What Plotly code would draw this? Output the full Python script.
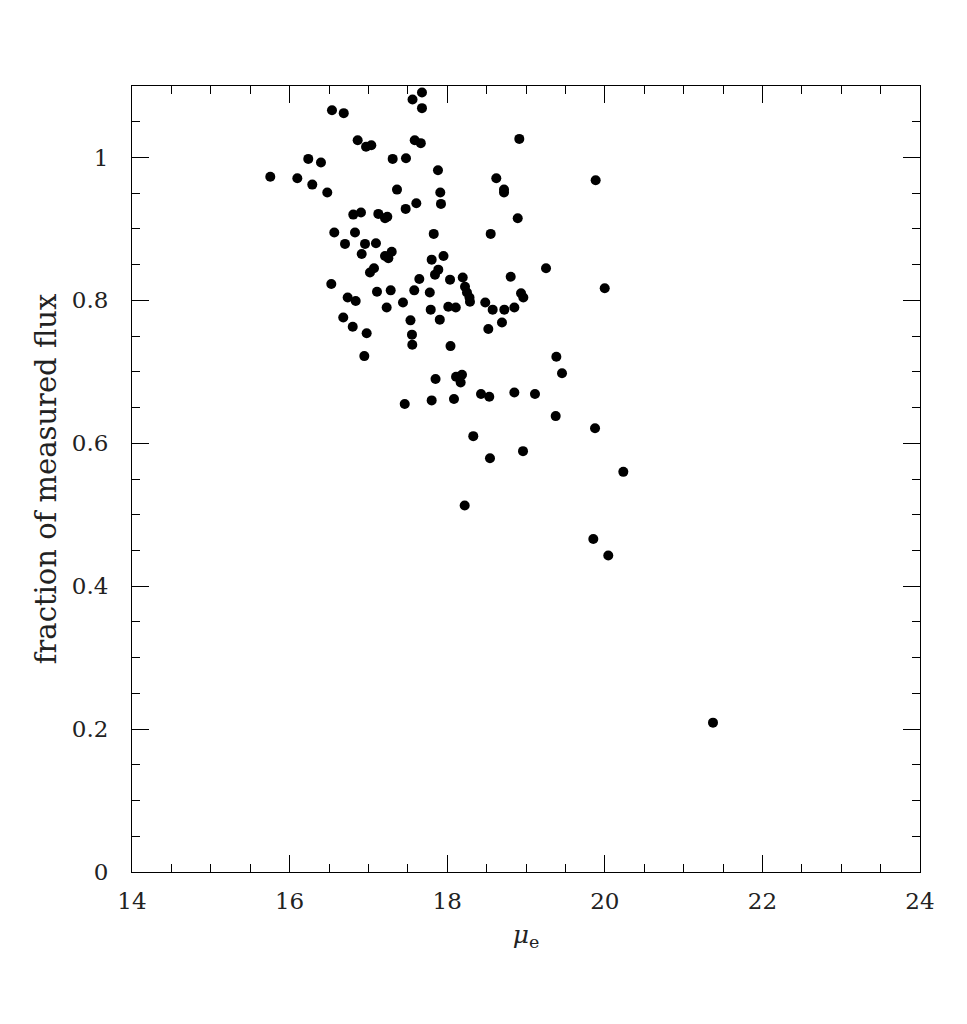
import plotly.graph_objects as go

mu_e = [15.755, 16.098, 16.237, 16.288, 16.398, 16.478, 16.538, 16.687, 16.567, 16.529,
        16.703, 16.681, 16.737, 16.801, 16.839, 16.808, 16.830, 16.864, 16.906, 16.915,
        16.957, 16.948, 16.970, 17.037, 16.978, 17.020, 17.071, 17.096, 17.109, 17.126,
        17.211, 17.240, 17.211, 17.296, 17.253, 17.232, 17.283, 17.308, 17.363, 17.439,
        17.461, 17.477, 17.473, 17.534, 17.560, 17.553, 17.557, 17.582, 17.588, 17.608,
        17.680, 17.680, 17.665, 17.646, 17.791, 17.779, 17.803, 17.803, 17.829, 17.852,
        17.845, 17.887, 17.883, 17.912, 17.921, 17.906, 17.953, 18.042, 18.036, 18.014,
        18.086, 18.109, 18.112, 18.171, 18.188, 18.197, 18.226, 18.222, 18.251, 18.283,
        18.289, 18.331, 18.429, 18.483, 18.522, 18.534, 18.552, 18.543, 18.577, 18.623,
        18.695, 18.725, 18.721, 18.721, 18.806, 18.852, 18.852, 18.895, 18.915, 18.937,
        18.966, 18.962, 19.114, 19.254, 19.385, 19.377, 19.457, 19.854, 19.876, 19.884,
        19.999, 20.044, 20.235, 21.373]

flux_frac = [0.973, 0.971, 0.998, 0.962, 0.993, 0.951, 1.066, 1.062, 0.895, 0.823,
             0.879, 0.776, 0.804, 0.763, 0.799, 0.920, 0.895, 1.024, 0.923, 0.865,
             0.879, 0.722, 1.015, 1.017, 0.754, 0.839, 0.845, 0.880, 0.812, 0.921,
             0.915, 0.917, 0.862, 0.868, 0.859, 0.790, 0.814, 0.998, 0.955, 0.797,
             0.655, 0.999, 0.928, 0.772, 1.081, 0.752, 0.738, 0.814, 1.024, 0.936,
             1.091, 1.069, 1.020, 0.830, 0.787, 0.811, 0.857, 0.660, 0.893, 0.690,
             0.836, 0.843, 0.982, 0.951, 0.935, 0.773, 0.862, 0.736, 0.829, 0.791,
             0.662, 0.790, 0.693, 0.685, 0.696, 0.832, 0.819, 0.513, 0.811, 0.804,
             0.798, 0.610, 0.669, 0.797, 0.760, 0.665, 0.893, 0.579, 0.787, 0.971,
             0.769, 0.787, 0.955, 0.951, 0.833, 0.790, 0.671, 0.915, 1.026, 0.810,
             0.804, 0.589, 0.669, 0.845, 0.721, 0.638, 0.698, 0.466, 0.621, 0.968,
             0.817, 0.443, 0.560, 0.209]

x_ticks = [14, 16, 18, 20, 22, 24]
y_ticks = [0, 0.2, 0.4, 0.6, 0.8, 1.0]
y_tick_labels = ["0", "0.2", "0.4", "0.6", "0.8", "1"]

FONT = "DejaVu Serif"

fig = go.Figure(go.Scatter(
    x=mu_e, y=flux_frac, mode="markers",
    marker=dict(color="black", size=10, line=dict(width=0)),
    hoverinfo="skip"))

axis_common = dict(
    showgrid=False, zeroline=False, showline=True, linecolor="black", linewidth=1,
    mirror="allticks", ticks="inside", tickcolor="black", tickwidth=1,
    tickfont=dict(family=FONT, size=23, color="#222"),
)

fig.update_xaxes(
    range=[14, 24], tickvals=x_ticks, ticklen=17,
    minor=dict(dtick=0.5, ticks="inside", ticklen=8, tickcolor="black", tickwidth=1),
    ticklabelstandoff=8,
    title=dict(text="<i>μ</i><sub>e</sub>", font=dict(family=FONT, size=25, color="#222"), standoff=12),
    **axis_common)
fig.update_yaxes(
    range=[0, 1.1], tickvals=y_ticks, ticktext=y_tick_labels, ticklen=17,
    minor=dict(dtick=0.05, ticks="inside", ticklen=8, tickcolor="black", tickwidth=1),
    ticklabelstandoff=18,
    title=dict(text="fraction of measured flux", font=dict(family=FONT, size=29, color="#222"), standoff=6),
    **axis_common)

fig.update_layout(
    width=959, height=1016,
    margin=dict(l=124, r=47, t=78, b=152),
    plot_bgcolor="white", paper_bgcolor="white",
    showlegend=False,
)

fig.write_html("out.html")
